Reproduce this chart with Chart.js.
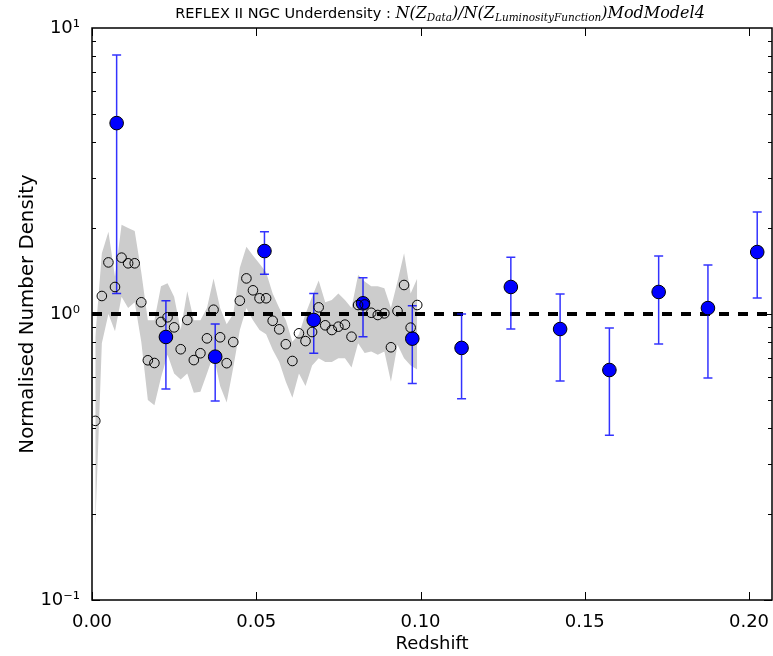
<!DOCTYPE html>
<html>
<head>
<meta charset="utf-8">
<script src="https://cdn.jsdelivr.net/npm/chart.js@4.4.1/dist/chart.umd.min.js"></script>
<style>
html,body{margin:0;padding:0;background:#fff;}
#wrap{position:relative;width:773px;height:656px;overflow:hidden;}
#title{position:absolute;left:100px;width:680px;top:4px;text-align:center;white-space:nowrap;color:#000;line-height:18px;}
#title .s{font-family:"DejaVu Sans",sans-serif;font-size:14.5px;}
#title .m{font-family:"DejaVu Serif",serif;font-style:italic;font-size:16px;}
#title sub{font-size:10.5px;vertical-align:-3px;line-height:0;}
</style>
</head>
<body>
<div id="wrap">
<canvas id="c" width="773" height="656"></canvas>
<div id="title"><span class="s">REFLEX II NGC Underdensity : </span><span class="m">N(Z<sub>Data</sub>)/N(Z<sub>LuminosityFunction</sub>)ModModel4</span></div>
</div>
<script>
// ---- data ----
const fineZ = [0.001,0.003,0.005,0.007,0.009,0.011,0.013,0.015,0.017,0.019,
               0.021,0.023,0.025,0.027,0.029,0.031,0.033,0.035,0.037,0.039,
               0.041,0.043,0.045,0.047,0.049,0.051,0.053,0.055,0.057,0.059,
               0.061,0.063,0.065,0.067,0.069,0.071,0.073,0.075,0.077,0.079,
               0.081,0.083,0.085,0.087,0.089,0.091,0.093,0.095,0.097,0.099];
const fineRatio = [0.423,1.156,1.515,1.243,1.574,1.504,1.504,1.099,0.689,0.674,
                   0.938,0.974,0.898,0.753,0.953,0.690,0.729,0.822,1.035,0.829,
                   0.673,0.798,1.113,1.332,1.210,1.135,1.135,0.947,0.884,0.784,
                   0.685,0.856,0.804,0.865,1.055,0.913,0.879,0.903,0.918,0.833,
                   1.075,1.080,1.010,0.992,1.005,0.765,1.024,1.263,0.896,1.075];
const bandUpper = [0.83,1.63,1.94,1.35,2.05,2.00,1.95,1.40,0.95,0.95,
                   1.25,1.28,1.15,0.88,1.20,0.95,0.95,1.05,1.33,1.05,
                   0.92,1.00,1.45,1.72,1.60,1.50,1.40,1.18,1.05,0.95,
                   0.80,0.85,1.00,1.15,1.31,1.10,1.12,1.18,1.12,1.05,
                   1.37,1.30,1.25,1.25,1.23,1.05,1.30,1.63,1.18,1.33];
const bandLower = [0.18,0.79,1.00,0.87,1.15,1.05,1.10,0.80,0.50,0.48,
                   0.60,0.72,0.62,0.59,0.62,0.53,0.535,0.62,0.72,0.56,
                   0.49,0.65,0.88,1.05,0.95,0.88,0.85,0.75,0.68,0.58,
                   0.51,0.62,0.56,0.66,0.70,0.68,0.68,0.70,0.70,0.65,
                   0.79,0.73,0.74,0.72,0.74,0.58,0.78,0.70,0.66,0.64];
const binZ     = [0.0075,0.0225,0.0375,0.0525,0.0675,0.0825,0.0975,0.1125,0.1275,0.1425,0.1575,0.1725,0.1875,0.2025];
const binRatio = [4.65,0.831,0.709,1.66,0.953,1.09,0.820,0.761,1.243,0.886,0.637,1.194,1.049,1.647];
const binErrHi = [8.05,1.113,0.923,1.94,1.18,1.339,1.069,1.000,1.58,1.175,0.894,1.595,1.483,2.273];
const binErrLo = [1.18,0.547,0.496,1.376,0.729,0.833,0.572,0.505,0.886,0.583,0.377,0.785,0.597,1.137];
const refLineX = [0, 0.207];
const refLineY = [1, 1];
const xTickValues = [0, 0.05, 0.10, 0.15, 0.20];
const yTickValues = [0.1, 1, 10];
const yTickLabels = ['10\u207B\u00B9', '10\u2070', '10\u00B9'];
const xTitle = 'Redshift';
const yTitle = 'Normalised Number Density';

// ---- build ----
const pts = (xs, ys) => xs.map((v, i) => ({x: v, y: ys[i]}));

const errorBars = {
  id: 'errorBars',
  beforeDatasetDraw(chart, args) {
    if (chart.data.datasets[args.index].id !== 'bins') return;
    const {ctx, scales: {x, y}} = chart;
    ctx.save();
    ctx.strokeStyle = 'rgba(0,0,255,0.8)';
    ctx.lineWidth = 1.5;
    binZ.forEach((z, i) => {
      const px = x.getPixelForValue(z);
      const yt = y.getPixelForValue(binErrHi[i]);
      const yb = y.getPixelForValue(binErrLo[i]);
      ctx.beginPath();
      ctx.moveTo(px, yt); ctx.lineTo(px, yb);
      ctx.moveTo(px - 4.5, yt); ctx.lineTo(px + 4.5, yt);
      ctx.moveTo(px - 4.5, yb); ctx.lineTo(px + 4.5, yb);
      ctx.stroke();
    });
    ctx.restore();
  }
};

const frameTicks = {
  id: 'frameTicks',
  afterDraw(chart) {
    const {ctx, chartArea: {left, right, top, bottom}, scales: {x, y}} = chart;
    ctx.save();
    ctx.strokeStyle = '#000';
    ctx.lineWidth = 1.5;
    ctx.strokeRect(left, top, right - left, bottom - top);
    ctx.lineWidth = 1;
    ctx.beginPath();
    xTickValues.forEach(v => {
      const px = Math.round(x.getPixelForValue(v)) + 0.5;
      ctx.moveTo(px, bottom); ctx.lineTo(px, bottom - 8);
      ctx.moveTo(px, top); ctx.lineTo(px, top + 8);
    });
    [0.1, 1].forEach(d => {
      for (let k = 1; k <= 9; k++) {
        const v = d * k;
        const py = Math.round(y.getPixelForValue(v)) + 0.5;
        const len = k === 1 ? 8 : 4;
        ctx.moveTo(left, py); ctx.lineTo(left + len, py);
        ctx.moveTo(right, py); ctx.lineTo(right - len, py);
      }
    });
    ctx.stroke();
    ctx.restore();
  }
};

Chart.defaults.font.family = '"DejaVu Sans", sans-serif';
Chart.defaults.color = '#000';

new Chart(document.getElementById('c'), {
  type: 'scatter',
  data: {
    datasets: [
      {
        type: 'line', label: 'band upper', data: pts(fineZ, bandUpper),
        fill: '+1', backgroundColor: '#cccccc', borderWidth: 0, pointRadius: 0, tension: 0, order: 5
      },
      {
        type: 'line', label: 'band lower', data: pts(fineZ, bandLower),
        fill: false, borderWidth: 0, pointRadius: 0, tension: 0, order: 5
      },
      {
        type: 'line', label: 'reference', data: pts(refLineX, refLineY),
        borderColor: '#000', borderWidth: 4, borderDash: [10, 9], pointRadius: 0, fill: false, order: 3
      },
      {
        id: 'bins', label: 'binned', data: pts(binZ, binRatio),
        pointRadius: 6.8, pointBackgroundColor: '#0000ff', pointBorderColor: '#000', pointBorderWidth: 1, order: 2
      },
      {
        label: 'fine', data: pts(fineZ, fineRatio),
        pointRadius: 4.8, pointBackgroundColor: 'rgba(0,0,0,0)', pointBorderColor: '#000', pointBorderWidth: 1, order: 1
      }
    ]
  },
  options: {
    responsive: false,
    animation: false,
    devicePixelRatio: 1,
    layout: {autoPadding: false, padding: {top: 28, right: 1, bottom: 0, left: 0}},
    plugins: {legend: {display: false}, tooltip: {enabled: false}, title: {display: false}},
    scales: {
      x: {
        type: 'linear', min: 0, max: 0.207,
        grid: {display: false, drawTicks: false},
        border: {display: false},
        ticks: {padding: 12, font: {size: 18}, callback: v => Number(v).toFixed(2)},
        afterBuildTicks: s => { s.ticks = xTickValues.map(v => ({value: v})); },
        afterFit: s => { s.height = 56; s.paddingLeft = 0; s.paddingRight = 0; },
        title: {display: true, text: xTitle, font: {size: 18}, padding: {top: 4, bottom: 1}}
      },
      y: {
        type: 'logarithmic', min: 0.1, max: 10,
        grid: {display: false, drawTicks: false},
        border: {display: false},
        ticks: {padding: 12, font: {size: 18},
          callback: (v) => { const i = yTickValues.findIndex(t => Math.abs(t - v) < 1e-9); return i >= 0 ? yTickLabels[i] : ''; }},
        afterBuildTicks: s => { s.ticks = yTickValues.map(v => ({value: v})); },
        afterFit: s => { s.width = 92; },
        title: {display: true, text: yTitle, font: {size: 19.8}, padding: {top: 16, bottom: 0}}
      }
    }
  },
  plugins: [errorBars, frameTicks]
});
</script>
</body>
</html>
